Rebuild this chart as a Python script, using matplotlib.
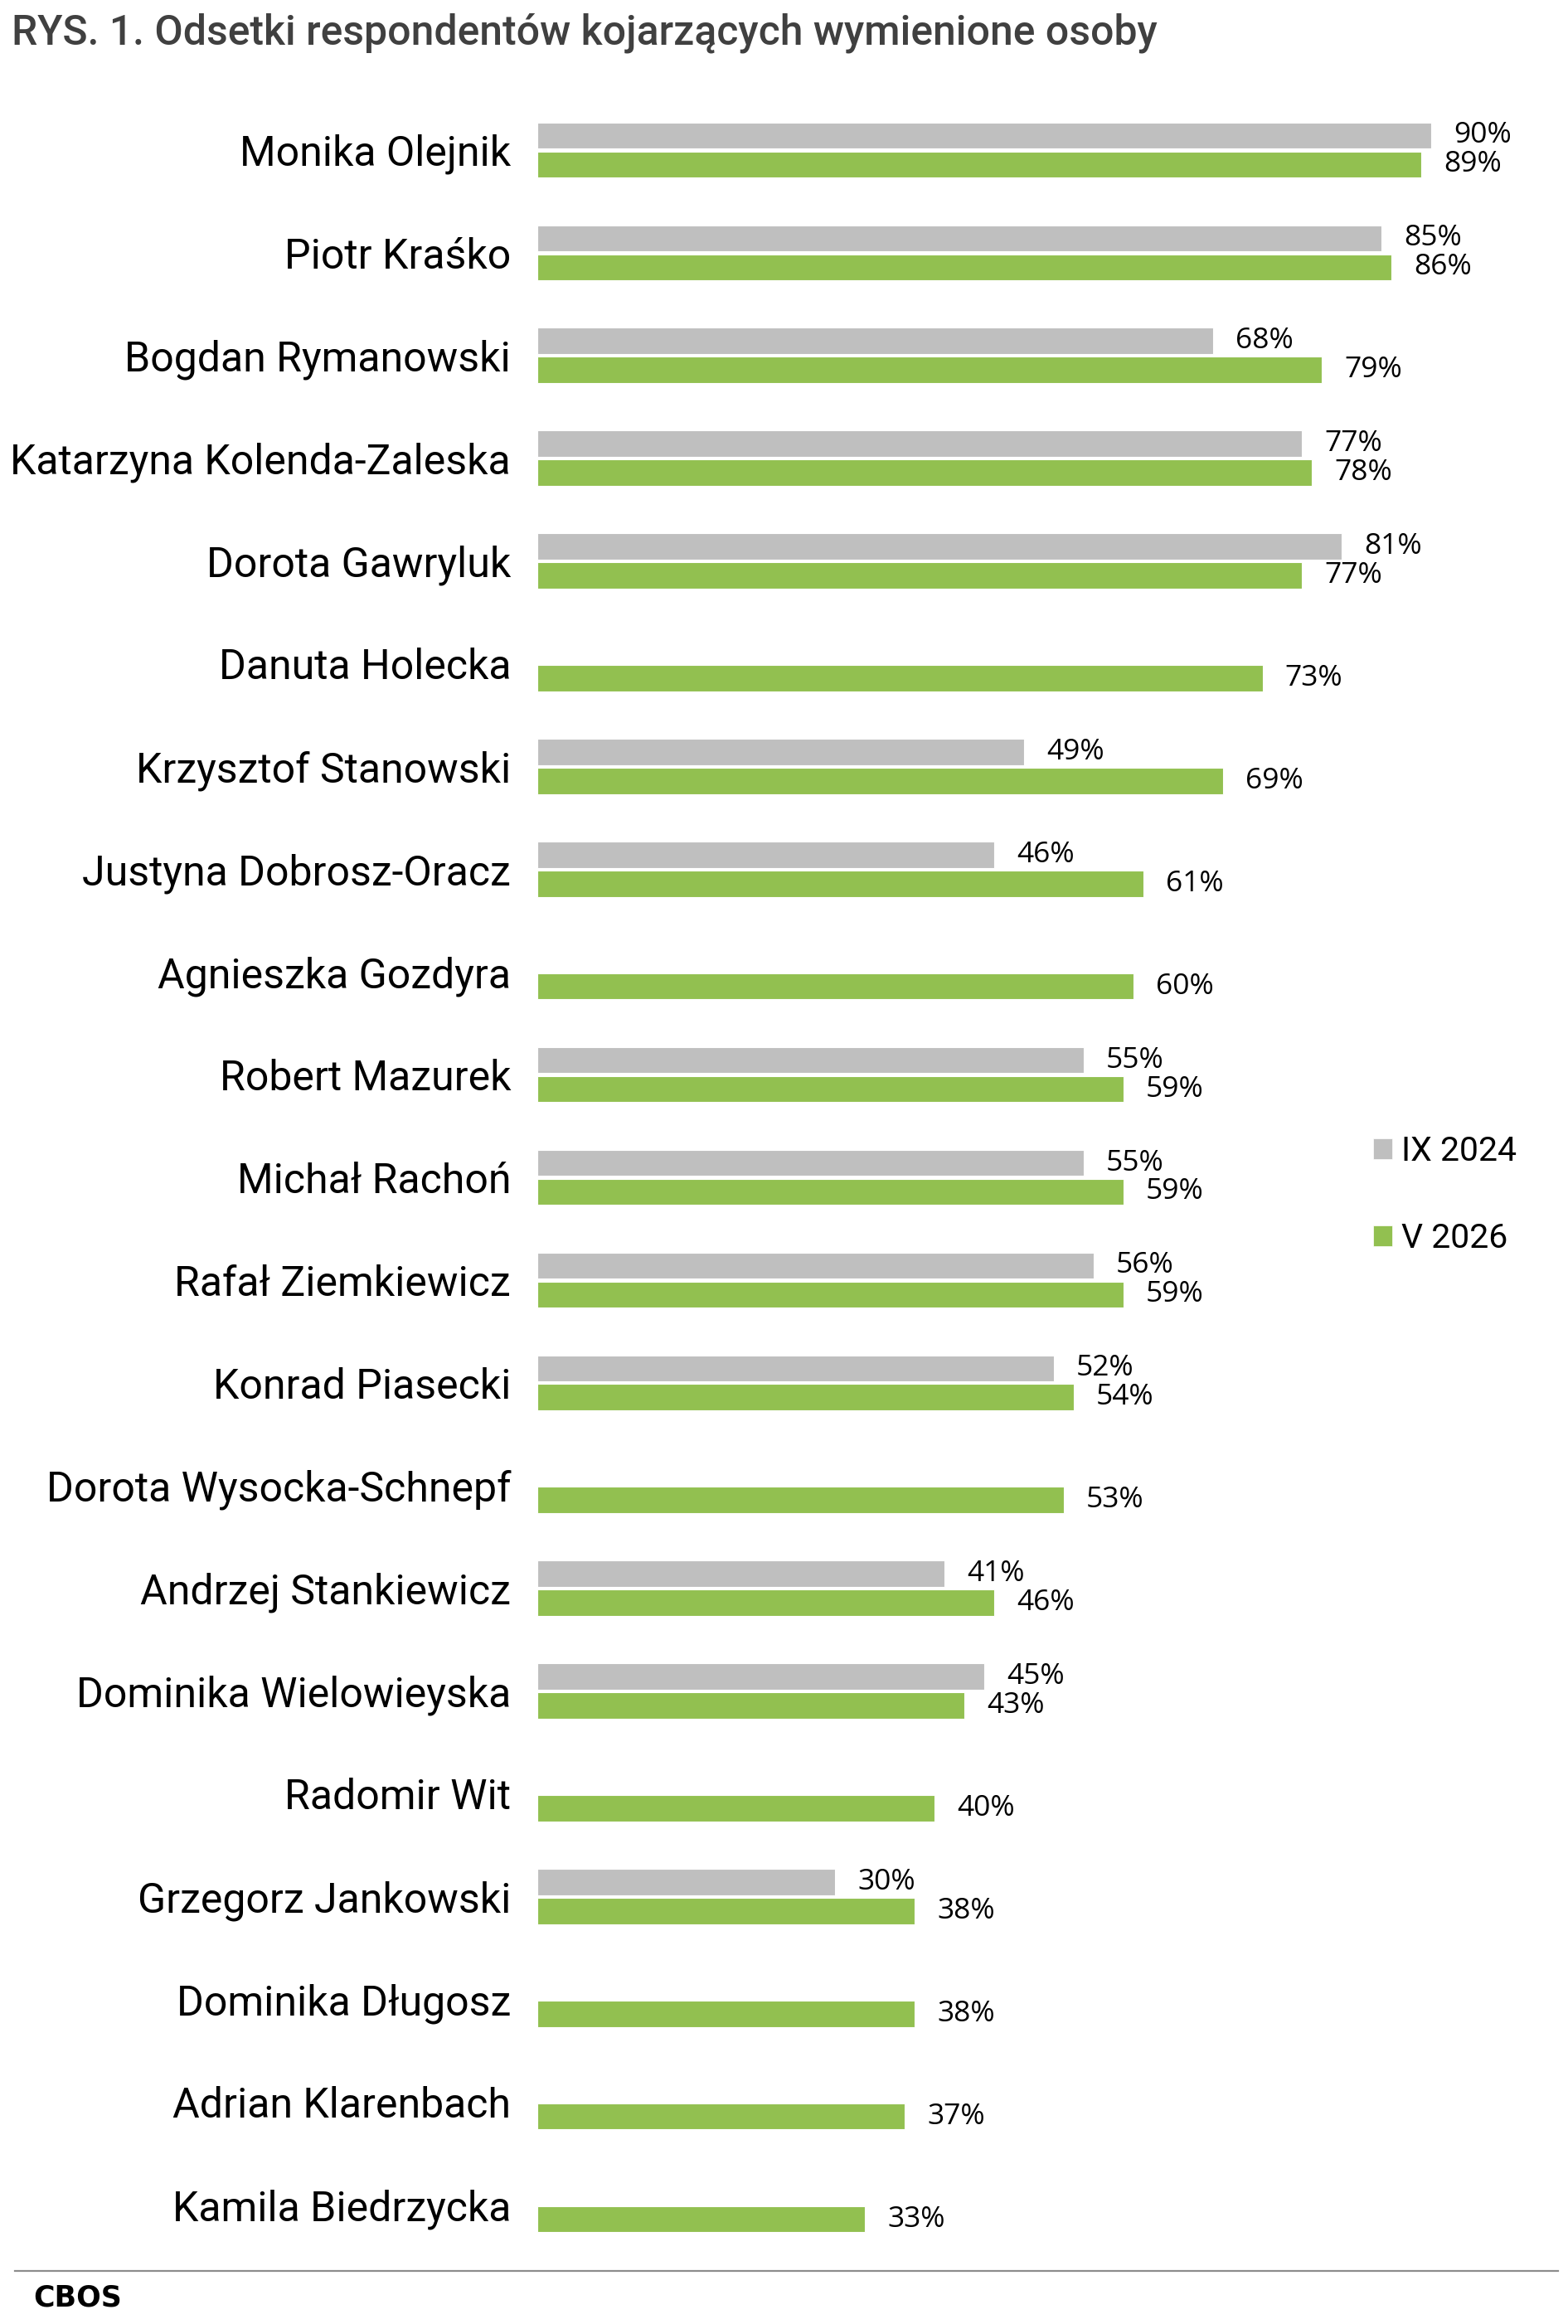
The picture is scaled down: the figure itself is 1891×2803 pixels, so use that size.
"""Recreate CBOS RYS. 1 - recognition of TV journalists, IX 2024 vs V 2026."""

import numpy as np
import matplotlib

matplotlib.use("Agg")
import matplotlib.pyplot as plt
from matplotlib.lines import Line2D
from matplotlib.patches import Patch

names = [
    "Monika Olejnik",
    "Piotr Kraśko",
    "Bogdan Rymanowski",
    "Katarzyna Kolenda-Zaleska",
    "Dorota Gawryluk",
    "Danuta Holecka",
    "Krzysztof Stanowski",
    "Justyna Dobrosz-Oracz",
    "Agnieszka Gozdyra",
    "Robert Mazurek",
    "Michał Rachoń",
    "Rafał Ziemkiewicz",
    "Konrad Piasecki",
    "Dorota Wysocka-Schnepf",
    "Andrzej Stankiewicz",
    "Dominika Wielowieyska",
    "Radomir Wit",
    "Grzegorz Jankowski",
    "Dominika Długosz",
    "Adrian Klarenbach",
    "Kamila Biedrzycka",
]
ix_2024 = [90, 85, 68, 77, 81, np.nan, 49, 46, np.nan, 55, 55, 56, 52,
           np.nan, 41, 45, np.nan, 30, np.nan, np.nan, np.nan]
v_2026 = [89, 86, 79, 78, 77, 73, 69, 61, 60, 59, 59, 59, 54, 53, 46, 43,
          40, 38, 38, 37, 33]
series_labels = ["IX 2024", "V 2026"]

GREY = "#BFBFBF"
GREEN = "#92C050"

W, H = 1891, 2803
fig = plt.figure(figsize=(W / 100, H / 100), dpi=100)
ax = fig.add_axes([648 / W, 1 - 2721 / H, 1198 / W, (2721 - 119) / H])

y = np.arange(len(names))
off = 0.141
bh = 0.255
ax.barh(y - off, ix_2024, height=bh, color=GREY, edgecolor="white", linewidth=0.8)
ax.barh(y + off, v_2026, height=bh, color=GREEN, edgecolor="white", linewidth=0.8)

# value labels next to the bar ends, skip missing IX 2024 values
for yy, val in zip(y - off, ix_2024):
    if not np.isnan(val):
        ax.annotate(f"{val:.0f}%", (val, yy), xytext=(19.5, 0), textcoords="offset points",
                    va="center", ha="left", fontsize=25.5, family="Open Sans")
for yy, val in zip(y + off, v_2026):
    ax.annotate(f"{val:.0f}%", (val, yy), xytext=(19.5, 0), textcoords="offset points",
                va="center", ha="left", fontsize=25.5, family="Open Sans")

ax.set_xlim(0, 100)
ax.set_ylim(len(names) - 0.5, -0.5)
ax.set_yticks(y)
ax.set_yticklabels(names, fontsize=36, family="Roboto")
ax.tick_params(axis="y", length=0, pad=23)
ax.set_xticks([])
for s in ax.spines.values():
    s.set_visible(False)

handles = [Patch(facecolor=GREY, edgecolor="white", linewidth=0.5),
           Patch(facecolor=GREEN, edgecolor="white", linewidth=0.5)]
fig.legend(handles, series_labels, loc="center left",
           bbox_to_anchor=(1656 / W, 1 - 1441 / H), frameon=False,
           prop={"family": "Roboto", "size": 29.5}, handlelength=0.56,
           handleheight=0.56, handletextpad=0.27, labelspacing=1.6,
           borderpad=0, borderaxespad=0)

fig.text(14 / W, 1 - 40 / H, "RYS. 1. Odsetki respondentów kojarzących wymienione osoby",
         fontsize=35.9, family="Roboto", fontweight="medium", color="#404040",
         va="center", ha="left")

fig.add_artist(Line2D([18 / W, 1879 / W], [1 - 2739 / H] * 2, color="#8C8C8C", lw=1.6))
fig.text(40 / W, 1 - 2772 / H, "CBOS", fontsize=25, fontweight="bold",
         family=["Liberation Sans Narrow", "DejaVu Sans"], va="center", ha="left")

fig.savefig("out.png", dpi=100)
